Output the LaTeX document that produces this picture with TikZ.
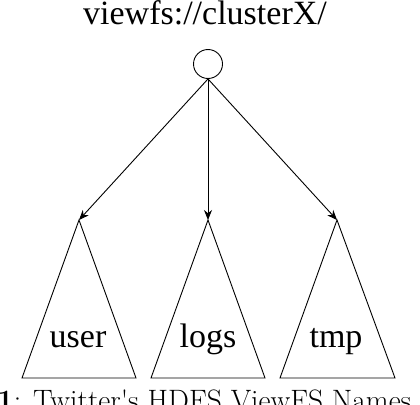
\documentclass[tikz,border=0pt]{standalone}
\usepackage{fontspec}
\setmainfont{Liberation Serif}
\newfontfamily\lmfont{Latin Modern Roman}
\usetikzlibrary{arrows.meta}
\begin{document}
\begin{tikzpicture}[x=1pt,y=-1pt,
  edge/.style={line width=0.9pt,-{Stealth[length=10pt,width=8pt]}},
  tri/.style={line width=0.9pt,line join=miter},
  lbl/.style={font=\fontsize{34}{34}\selectfont,inner sep=0pt,anchor=base}]
\useasboundingbox[fill=white] (0,0) rectangle (420,404);
\node[lbl] (title) at (205,25) {viewfs://clusterX/};
\node[circle,draw,line width=0.9pt,minimum size=29pt,inner sep=0pt] (root) at (208,64) {};
\coordinate (ua) at (79,220);
\coordinate (la) at (208,220);
\coordinate (ta) at (337,220);
\draw[tri] (ua) -- (22,378) -- (136,378) -- cycle;
\draw[tri] (la) -- (151,378) -- (265,378) -- cycle;
\draw[tri] (ta) -- (280,378) -- (395,378) -- cycle;
\draw[edge] (root.south) -- (ua);
\draw[edge] (root.south) -- (la);
\draw[edge] (root.south) -- (ta);
\node[lbl] (user) at (78,347) {user};
\node[lbl] (logs) at (208,347) {logs};
\node[lbl] (tmp) at (336,347) {tmp};
\node[inner sep=0pt,anchor=base west,font=\lmfont\fontsize{29.5}{29.5}\selectfont] (cap) at (-3,410) {\textbf{1}: Twitter's HDFS ViewFS Names};
\end{tikzpicture}
\end{document}
